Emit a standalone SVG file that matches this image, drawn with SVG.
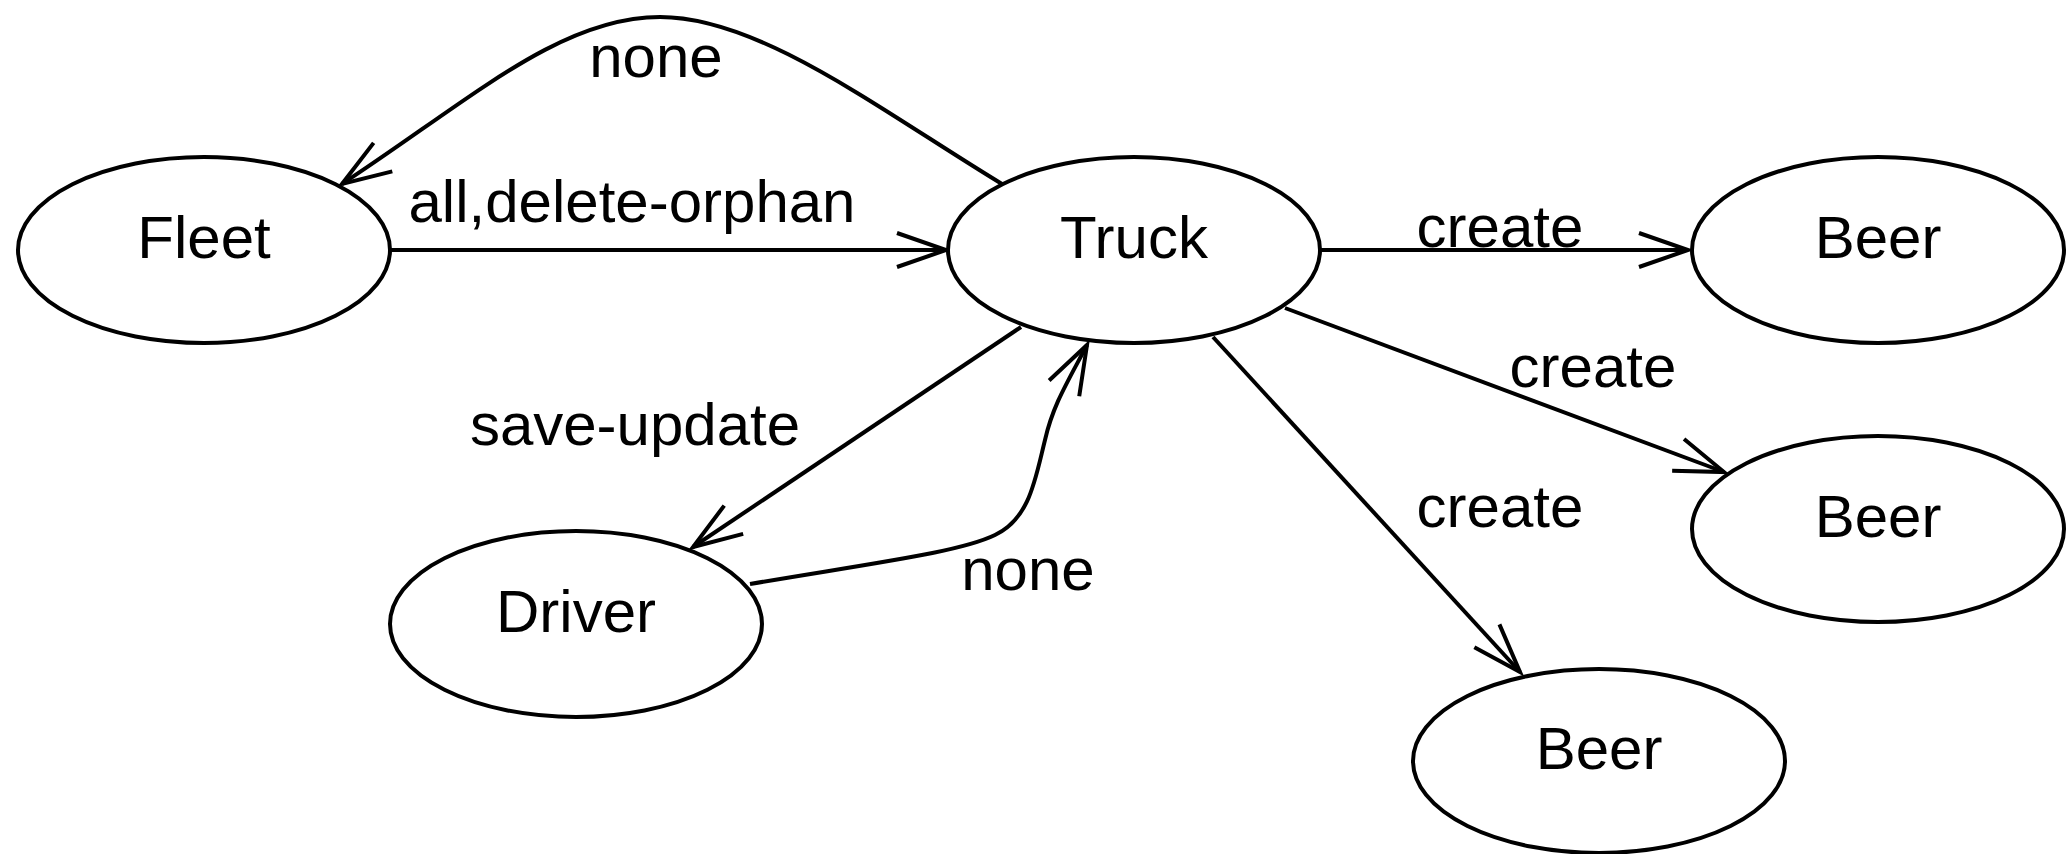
<svg xmlns="http://www.w3.org/2000/svg" width="2067" height="854" viewBox="0 0 2067 854">
  <style>
    .node ellipse { fill: #fff; stroke: #000; stroke-width: 4; }
    text { font-family: "Liberation Sans", Arial, Helvetica, sans-serif; font-size: 60px; fill: #000; text-anchor: middle; }
    .edge { fill: none; stroke: #000; stroke-width: 4; marker-end: url(#arrow); }
  </style>
  <defs>
    <marker id="arrow" markerUnits="userSpaceOnUse" markerWidth="60" markerHeight="40" viewBox="-55 -20 60 40" refX="0" refY="0" orient="auto" overflow="visible">
      <path d="M-49,-17 L0,0 L-49,17" fill="none" stroke="#000" stroke-width="4"/>
    </marker>
  </defs>

  <rect width="2067" height="854" fill="#fff"/>

  <g id="connectors">
    <path class="edge" d="M1002,184 C880,110 760,17 660,17 C560,17 470,100 342,184"/>
    <path class="edge" d="M390,250 L946,250"/>
    <path class="edge" d="M1321,250 L1688,250"/>
    <path class="edge" d="M1285,308 L1724,472"/>
    <path class="edge" d="M1213,337 L1520,672"/>
    <path class="edge" d="M1021,327 L693,547"/>
    <path class="edge" d="M750,584 C880,562 960,552 995,535 C1030,518 1035,480 1045,440 C1053,405 1067,383 1087,345"/>
  </g>

  <g id="edge-labels">
    <text x="656" y="77">none</text>
    <text x="632" y="222">all,delete-orphan</text>
    <text x="1500" y="247">create</text>
    <text x="1593" y="387">create</text>
    <text x="1500" y="527">create</text>
    <text x="635" y="445">save-update</text>
    <text x="1028" y="590">none</text>
  </g>

  <g id="fleet" class="node">
    <ellipse cx="204" cy="250" rx="186" ry="93"/>
    <text x="204" y="258">Fleet</text>
  </g>
  <g id="truck" class="node">
    <ellipse cx="1134" cy="250" rx="186" ry="93"/>
    <text x="1134" y="258">Truck</text>
  </g>
  <g id="beer-1" class="node">
    <ellipse cx="1878" cy="250" rx="186" ry="93"/>
    <text x="1878" y="258">Beer</text>
  </g>
  <g id="beer-2" class="node">
    <ellipse cx="1878" cy="529" rx="186" ry="93"/>
    <text x="1878" y="537">Beer</text>
  </g>
  <g id="driver" class="node">
    <ellipse cx="576" cy="624" rx="186" ry="93"/>
    <text x="576" y="632">Driver</text>
  </g>
  <g id="beer-3" class="node">
    <ellipse cx="1599" cy="761" rx="186" ry="92"/>
    <text x="1599" y="769">Beer</text>
  </g>
</svg>
